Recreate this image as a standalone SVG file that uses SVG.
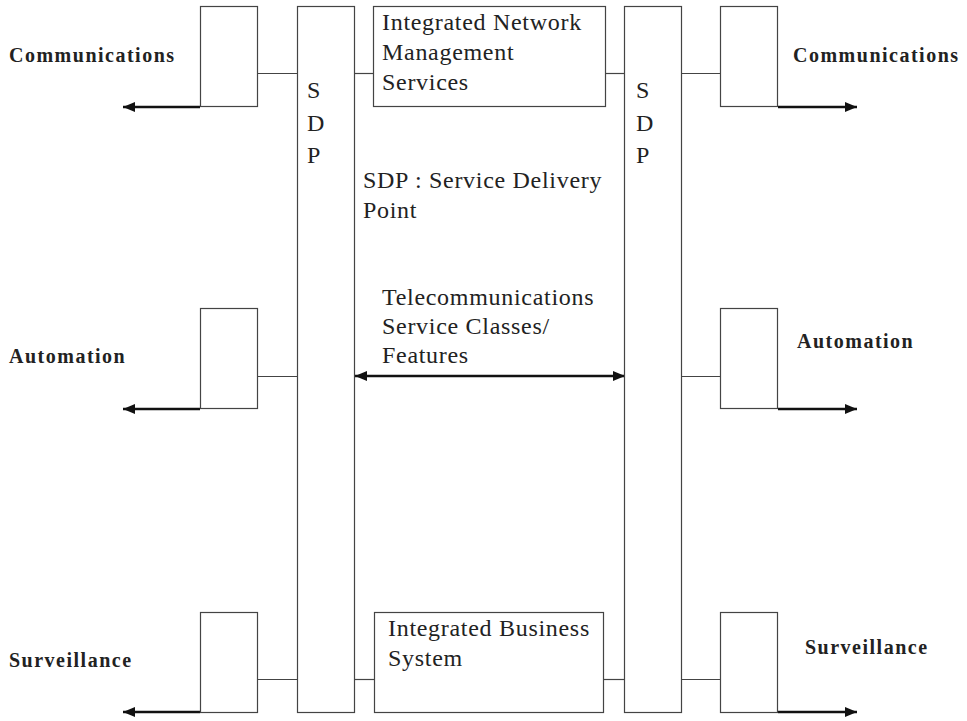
<svg xmlns="http://www.w3.org/2000/svg" width="967" height="721" viewBox="0 0 967 721">
<style>
.box{fill:#fff;stroke:#444;stroke-width:1.2}
.ln{stroke:#444;stroke-width:1.2;fill:none}
.arr{stroke:#111;stroke-width:2.4;fill:none}
.t{font-family:"Liberation Serif","Times New Roman",serif;font-size:24px;fill:#222;letter-spacing:0.7px}
.b{font-family:"Liberation Serif","Times New Roman",serif;font-size:20px;font-weight:bold;fill:#222;letter-spacing:1.5px}
</style>
<defs>
<marker id="ah" markerUnits="userSpaceOnUse" markerWidth="14" markerHeight="12" refX="12" refY="6" orient="auto">
<path d="M0,1 L12,6 L0,11 Z" fill="#111"/>
</marker>
<marker id="as" markerUnits="userSpaceOnUse" markerWidth="14" markerHeight="12" refX="0" refY="6" orient="auto">
<path d="M12,1 L0,6 L12,11 Z" fill="#111"/>
</marker>
</defs>
<g id="connectors">
<line class="ln" x1="258" y1="73.5" x2="297" y2="73.5"/>
<line class="ln" x1="354" y1="73.5" x2="373" y2="73.5"/>
<line class="ln" x1="606" y1="73.5" x2="624" y2="73.5"/>
<line class="ln" x1="682" y1="73.5" x2="720" y2="73.5"/>
<line class="ln" x1="258" y1="376.5" x2="297" y2="376.5"/>
<line class="ln" x1="682" y1="376.5" x2="720" y2="376.5"/>
<line class="ln" x1="258" y1="679.5" x2="297" y2="679.5"/>
<line class="ln" x1="354" y1="679.5" x2="374" y2="679.5"/>
<line class="ln" x1="604" y1="679.5" x2="624" y2="679.5"/>
<line class="ln" x1="682" y1="679.5" x2="720" y2="679.5"/>
<line class="arr" x1="200" y1="107" x2="123" y2="107" marker-end="url(#ah)"/>
<line class="arr" x1="200" y1="409" x2="123" y2="409" marker-end="url(#ah)"/>
<line class="arr" x1="200" y1="712" x2="123" y2="712" marker-end="url(#ah)"/>
<line class="arr" x1="778" y1="107" x2="857" y2="107" marker-end="url(#ah)"/>
<line class="arr" x1="778" y1="409" x2="857" y2="409" marker-end="url(#ah)"/>
<line class="arr" x1="778" y1="712" x2="857" y2="712" marker-end="url(#ah)"/>
<line class="arr" x1="355" y1="376" x2="625" y2="376" marker-start="url(#as)" marker-end="url(#ah)"/>
</g>
<g id="sdp-left">
<rect class="box" x="297.5" y="6.5" width="57" height="706"/>
<text class="t" x="307" y="98">S</text>
<text class="t" x="307" y="131">D</text>
<text class="t" x="307" y="163">P</text>
</g>
<g id="sdp-right">
<rect class="box" x="624.5" y="6.5" width="57" height="706"/>
<text class="t" x="636" y="98">S</text>
<text class="t" x="636" y="131">D</text>
<text class="t" x="636" y="163">P</text>
</g>
<g id="inms">
<rect class="box" x="373.5" y="6.5" width="232" height="100"/>
<text class="t" x="382" y="30">Integrated Network</text>
<text class="t" x="382" y="60">Management</text>
<text class="t" x="382" y="90">Services</text>
</g>
<g id="ibs">
<rect class="box" x="374.5" y="612.5" width="229" height="100"/>
<text class="t" x="388" y="636">Integrated Business</text>
<text class="t" x="388" y="666">System</text>
</g>
<g id="legend">
<text class="t" x="363" y="188">SDP : Service Delivery</text>
<text class="t" x="363" y="218">Point</text>
</g>
<g id="features">
<text class="t" x="382" y="305">Telecommunications</text>
<text class="t" x="382" y="334">Service Classes/</text>
<text class="t" x="382" y="363">Features</text>
</g>
<g id="comm-left">
<rect class="box" x="200.5" y="6.5" width="57" height="100"/>
<text class="b" x="9" y="62">Communications</text>
</g>
<g id="auto-left">
<rect class="box" x="200.5" y="308.5" width="57" height="100"/>
<text class="b" x="9" y="363">Automation</text>
</g>
<g id="surv-left">
<rect class="box" x="200.5" y="612.5" width="57" height="100"/>
<text class="b" x="9" y="667">Surveillance</text>
</g>
<g id="comm-right">
<rect class="box" x="720.5" y="6.5" width="57" height="100"/>
<text class="b" x="793" y="62">Communications</text>
</g>
<g id="auto-right">
<rect class="box" x="720.5" y="308.5" width="57" height="100"/>
<text class="b" x="797" y="348">Automation</text>
</g>
<g id="surv-right">
<rect class="box" x="720.5" y="612.5" width="57" height="100"/>
<text class="b" x="805" y="654">Surveillance</text>
</g>
</svg>
